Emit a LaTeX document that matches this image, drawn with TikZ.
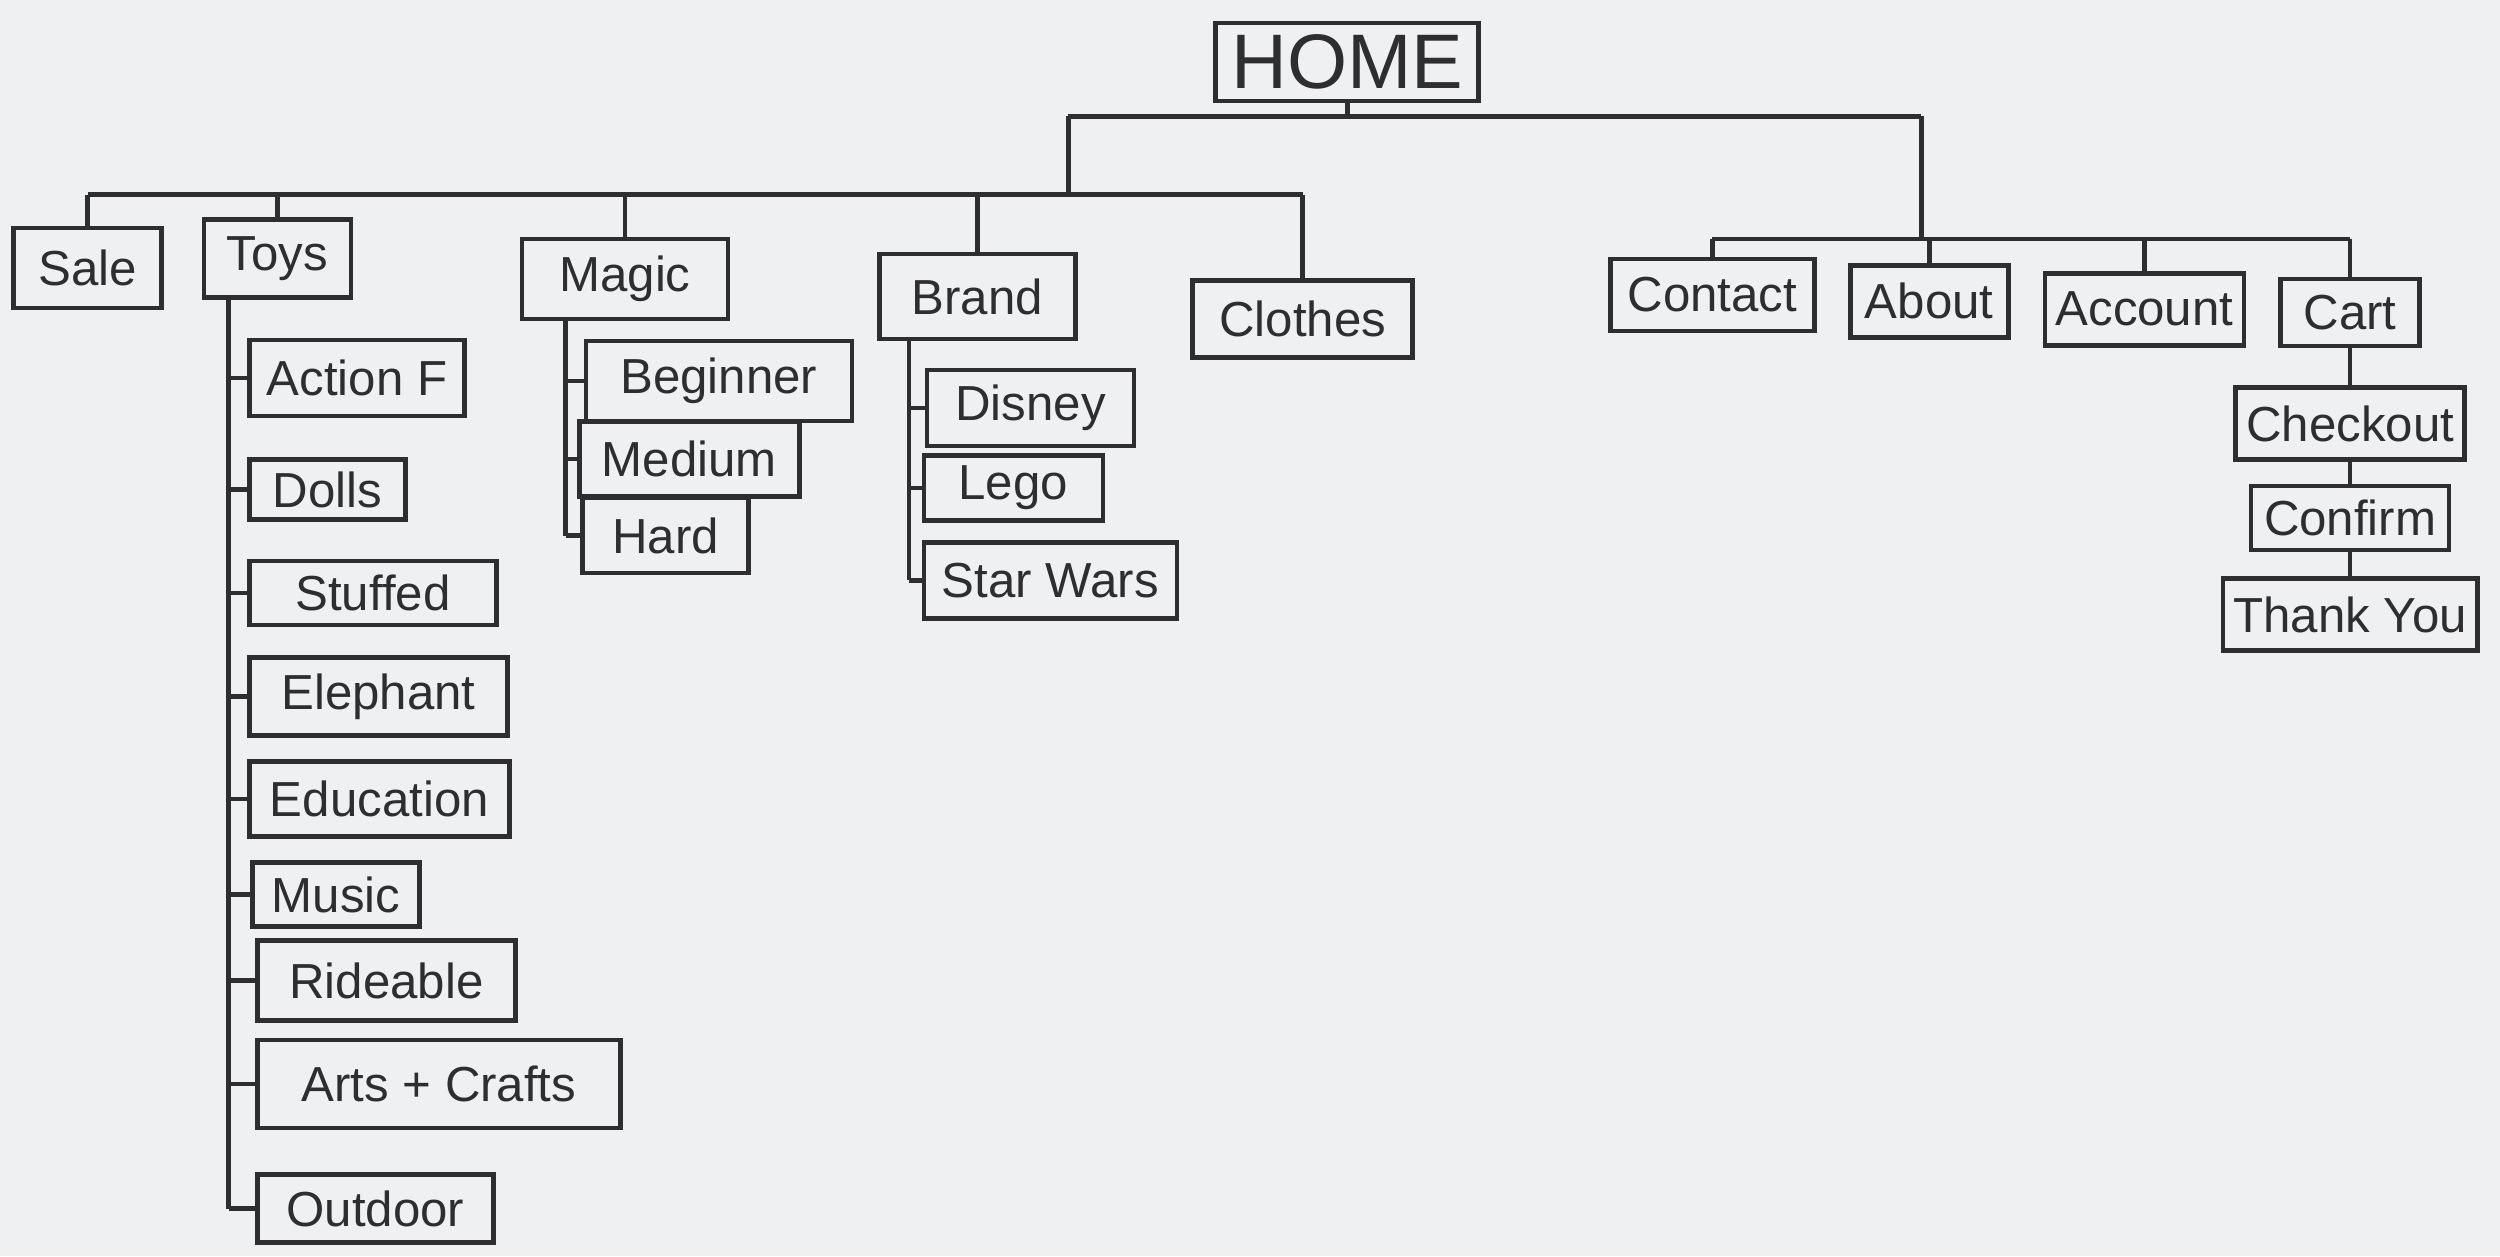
\documentclass[tikz,border=0pt]{standalone}
\usepackage{fontspec}
\setmainfont{Liberation Sans}
\usepackage{tikz}
\usetikzlibrary{positioning}
\usepackage{xcolor}
\definecolor{paper}{HTML}{EEF0F2}
\definecolor{ink}{HTML}{2E2E30}

\begin{document}
\begin{tikzpicture}[x=0.01594cm, y=-0.01594cm,
    page/.style={draw=ink, line width=1.3pt, inner sep=3pt,
                 minimum height=0.72cm, text=ink,
                 font=\fontsize{14}{16}\selectfont},
    link/.style={draw=ink, line width=1.3pt}
  ]
    \fill[paper] (0,0) rectangle (1568,788);
    \useasboundingbox (0,0) rectangle (1568,788);

    % home and first level
    \node[page, minimum width=2.63cm, minimum height=0.78cm,
          font=\fontsize{22}{24}\selectfont] (home) at (845,39) {HOME};

    \node[page, minimum width=1.48cm, minimum height=0.8cm] (sale) at (55,168) {Sale};
    \node[page, minimum width=1.47cm, minimum height=0.78cm] (toys) at (174,162) {Toys};
    \node[page, minimum width=2.06cm, minimum height=0.8cm] (magic) at (392,175) {Magic};
    \node[page, minimum width=1.96cm, minimum height=0.85cm] (brand) at (613,186) {Brand};
    \node[page, minimum width=2.20cm, minimum height=0.77cm] (clothes) at (817,200) {Clothes};

    \node[page, minimum width=2.04cm] (contact) at (1074,185) {Contact};
    \node[page, minimum width=1.58cm] (about) at (1210,189) {About};
    \node[page, minimum width=1.91cm] (account) at (1345,194) {Account};
    \node[page, minimum width=1.39cm, minimum height=0.67cm] (cart) at (1474,196) {Cart};

    % cart steps
    \node[page, minimum width=2.23cm, below=0.37cm of cart] (checkout) {Checkout};
    \node[page, minimum width=1.98cm, minimum height=0.64cm,
          below=0.22cm of checkout] (confirm) {Confirm};
    \node[page, minimum width=2.44cm, below=0.24cm of confirm] (thanks) {Thank You};

    % toys pages
    \node[page, anchor=west, minimum width=2.15cm, minimum height=0.76cm] (actionf) at (155,237) {Action F};
    \node[page, anchor=west, minimum width=1.56cm, minimum height=0.6cm] (dolls) at (155,307) {Dolls};
    \node[page, anchor=west, minimum width=2.47cm, minimum height=0.64cm] (stuffed) at (155,372) {Stuffed};
    \node[page, anchor=west, minimum width=2.58cm, minimum height=0.78cm] (elephant) at (155,437) {Elephant};
    \node[page, anchor=west, minimum width=2.60cm, minimum height=0.75cm] (education) at (155,501) {Education};
    \node[page, anchor=west, minimum width=1.67cm, minimum height=0.64cm] (music) at (157,561) {Music};
    \node[page, anchor=west, minimum width=2.58cm, minimum height=0.8cm] (rideable) at (160,615) {Rideable};
    \node[page, anchor=west, minimum width=3.63cm, minimum height=0.88cm] (arts) at (160,680) {Arts + Crafts};
    \node[page, anchor=west, minimum width=2.36cm, minimum height=0.68cm] (outdoor) at (160,758) {Outdoor};

    % magic pages
    \node[page, anchor=west, minimum width=2.66cm, minimum height=0.8cm] (beginner) at (366,239) {Beginner};
    \node[page, anchor=west, minimum width=2.20cm, minimum height=0.75cm] (medium) at (362,288) {Medium};
    \node[page, anchor=west, minimum width=1.66cm, minimum height=0.75cm] (hard) at (364,336) {Hard};

    % brand pages
    \node[page, anchor=west, minimum width=2.07cm, minimum height=0.76cm] (disney) at (580,256) {Disney};
    \node[page, anchor=west, minimum width=1.79cm, minimum height=0.65cm] (lego) at (578,306) {Lego};
    \node[page, anchor=west, minimum width=2.53cm, minimum height=0.76cm] (starwars) at (578,364) {Star Wars};

    % tree lines
    \coordinate (lefthub) at (670,73);
    \coordinate (righthub) at (1205,73);
    \coordinate (leftbar) at (670,122);
    \coordinate (rightbar) at (1205,150);

    \draw[link] (home.south) -- (home.south |- lefthub);
    \draw[link] (lefthub) -- (righthub);
    \draw[link] (lefthub) -- (leftbar);
    \draw[link] (righthub) -- (rightbar);

    \draw[link] (sale.north |- leftbar) -- (clothes.north |- leftbar);
    \draw[link] (sale.north |- leftbar) -- (sale.north);
    \draw[link] (toys.north |- leftbar) -- (toys.north);
    \draw[link] (magic.north |- leftbar) -- (magic.north);
    \draw[link] (brand.north |- leftbar) -- (brand.north);
    \draw[link] (clothes.north |- leftbar) -- (clothes.north);

    \draw[link] (contact.north |- rightbar) -- (cart.north |- rightbar);
    \draw[link] (contact.north |- rightbar) -- (contact.north);
    \draw[link] (about.north |- rightbar) -- (about.north);
    \draw[link] (account.north |- rightbar) -- (account.north);
    \draw[link] (cart.north |- rightbar) -- (cart.north);

    \draw[link] (cart) -- (checkout);
    \draw[link] (checkout) -- (confirm);
    \draw[link] (confirm) -- (thanks);

    % toys rail
    \coordinate (toysrail) at ([xshift=0.27cm]toys.south west);
    \draw[link] (toysrail) -- (toysrail |- outdoor.west);
    \draw[link] (toysrail |- actionf.west) -- (actionf.west);
    \draw[link] (toysrail |- dolls.west) -- (dolls.west);
    \draw[link] (toysrail |- stuffed.west) -- (stuffed.west);
    \draw[link] (toysrail |- elephant.west) -- (elephant.west);
    \draw[link] (toysrail |- education.west) -- (education.west);
    \draw[link] (toysrail |- music.west) -- (music.west);
    \draw[link] (toysrail |- rideable.west) -- (rideable.west);
    \draw[link] (toysrail |- arts.west) -- (arts.west);
    \draw[link] (toysrail |- outdoor.west) -- (outdoor.west);

    % magic rail
    \coordinate (magicrail) at ([xshift=0.46cm]magic.south west);
    \draw[link] (magicrail) -- (magicrail |- hard.west);
    \draw[link] (magicrail |- beginner.west) -- (beginner.west);
    \draw[link] (magicrail |- medium.west) -- (medium.west);
    \draw[link] (magicrail |- hard.west) -- (hard.west);

    % brand rail
    \coordinate (brandrail) at ([xshift=0.32cm]brand.south west);
    \draw[link] (brandrail) -- (brandrail |- starwars.west);
    \draw[link] (brandrail |- disney.west) -- (disney.west);
    \draw[link] (brandrail |- lego.west) -- (lego.west);
    \draw[link] (brandrail |- starwars.west) -- (starwars.west);
  \end{tikzpicture}
\end{document}
